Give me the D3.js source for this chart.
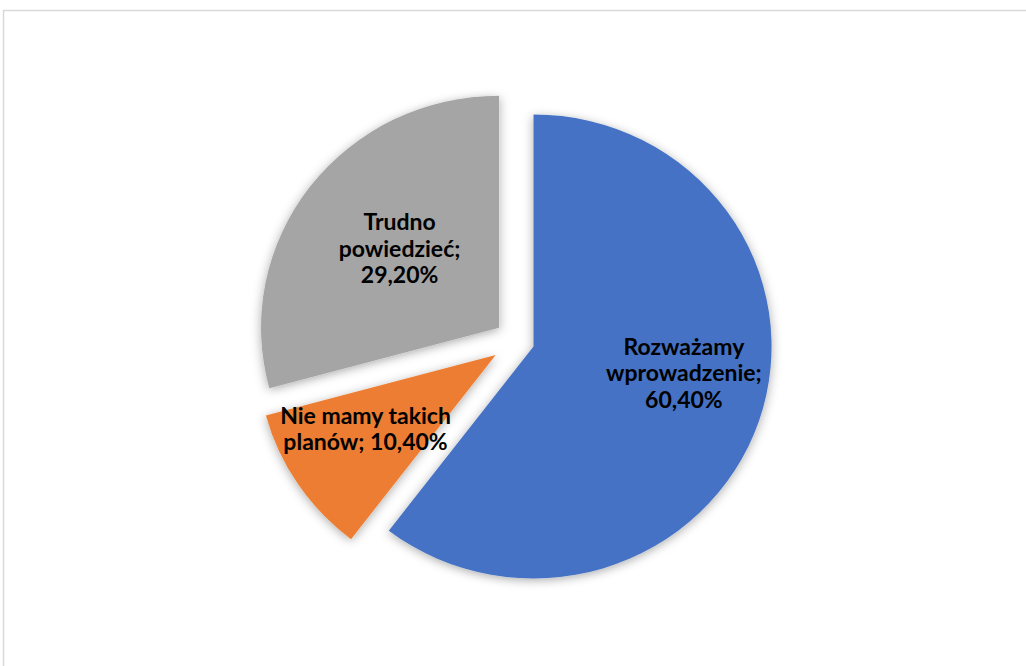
<!DOCTYPE html>
<html>
<head>
<meta charset="utf-8">
<script src="https://cdn.jsdelivr.net/npm/d3@7"></script>
<style>
  html, body { margin: 0; padding: 0; background: #ffffff; }
  svg { display: block; }
</style>
</head>
<body>
<svg id="chart" width="1026" height="666"></svg>
<script>
// Survey answers, in the order the slices run clockwise from 12 o'clock
const categories = ["Rozważamy wprowadzenie", "Nie mamy takich planów", "Trudno powiedzieć"];
const values = [60.4, 10.4, 29.2];
const colors = ["#4472C4", "#ED7D31", "#A5A5A5"];

// Layout
const W = 1026, H = 666;
const center = { x: 517, y: 341 };
const radius = 232;
const stretchX = 1.026;              // the plot area is slightly wider than tall
const explode = [17, 25, 22];        // how far each slice is pulled out, px
const labelReach = [149, 147, 125];  // label distance from its slice's tip, px
const labelTurn = [-8.4, 3.5, 1.7];  // label angle relative to the slice bisector, deg
const wrapWidth = 176;
const fontSize = 23;
const lineHeight = 26.5;

const svg = d3.select("#chart");

// Chart frame
svg.append("rect")
  .attr("x", 3.5).attr("y", 10.5)
  .attr("width", W + 20).attr("height", H + 20)
  .attr("fill", "#ffffff")
  .attr("stroke", "#d9d9d9")
  .attr("stroke-width", 1.5);

// Soft outer shadow for the slices
const defs = svg.append("defs");
const shadow = defs.append("filter").attr("id", "sliceShadow")
  .attr("x", "-20%").attr("y", "-20%").attr("width", "140%").attr("height", "140%");
shadow.append("feDropShadow")
  .attr("dx", 0).attr("dy", 2)
  .attr("stdDeviation", 5)
  .attr("flood-color", "#000000")
  .attr("flood-opacity", 0.33);

const pie = d3.pie().sort(null).value(d => d).startAngle(0).endAngle(2 * Math.PI);
const arcs = pie(values);
const arc = d3.arc().innerRadius(0).outerRadius(radius);

const mid = d => (d.startAngle + d.endAngle) / 2;

const pieG = svg.append("g")
  .attr("transform", `translate(${center.x},${center.y}) scale(${stretchX},1)`);

pieG.selectAll("path.slice")
  .data(arcs)
  .join("path")
  .attr("class", "slice")
  .attr("d", arc)
  .attr("fill", (d, i) => colors[i])
  .attr("filter", "url(#sliceShadow)")
  .attr("transform", (d, i) => {
    const a = mid(d);
    return `translate(${explode[i] * Math.sin(a)},${-explode[i] * Math.cos(a)})`;
  });

// Data labels: "category; value" wrapped to a fixed width
const fmt = d3.formatLocale({ decimal: ",", thousands: " ", grouping: [3], currency: ["", " zł"] }).format(".2f");

const fontFamily = "Lato, 'Open Sans', sans-serif";
const measurer = svg.append("text")
  .attr("font-family", fontFamily)
  .attr("font-weight", 700)
  .attr("font-size", fontSize)
  .attr("visibility", "hidden");
function textWidth(s) { measurer.text(s); return measurer.node().getComputedTextLength(); }

function wrap(text) {
  const words = text.split(" ");
  const lines = [];
  let line = words[0];
  for (let k = 1; k < words.length; k++) {
    const test = line + " " + words[k];
    if (textWidth(test) <= wrapWidth) line = test;
    else { lines.push(line); line = words[k]; }
  }
  lines.push(line);
  return lines;
}

const labels = svg.append("g").attr("class", "labels");
arcs.forEach((d, i) => {
  const a = mid(d);
  const tipX = center.x + stretchX * explode[i] * Math.sin(a);
  const tipY = center.y - explode[i] * Math.cos(a);
  const la = a + labelTurn[i] * Math.PI / 180;
  const lx = tipX + stretchX * labelReach[i] * Math.sin(la);
  const ly = tipY - labelReach[i] * Math.cos(la);
  const lines = wrap(`${categories[i]}; ${fmt(values[i])}%`);
  const t = labels.append("text")
    .attr("x", lx)
    .attr("y", ly)
    .attr("text-anchor", "middle")
    .attr("font-family", fontFamily)
    .attr("font-weight", 700)
    .attr("font-size", fontSize)
    .attr("fill", "#000000");
  const first = -(lines.length - 1) / 2 * lineHeight + fontSize * 0.35;
  lines.forEach((s, k) => {
    t.append("tspan")
      .attr("x", lx)
      .attr("y", ly + first + k * lineHeight)
      .text(s);
  });
});
measurer.remove();
</script>
</body>
</html>
